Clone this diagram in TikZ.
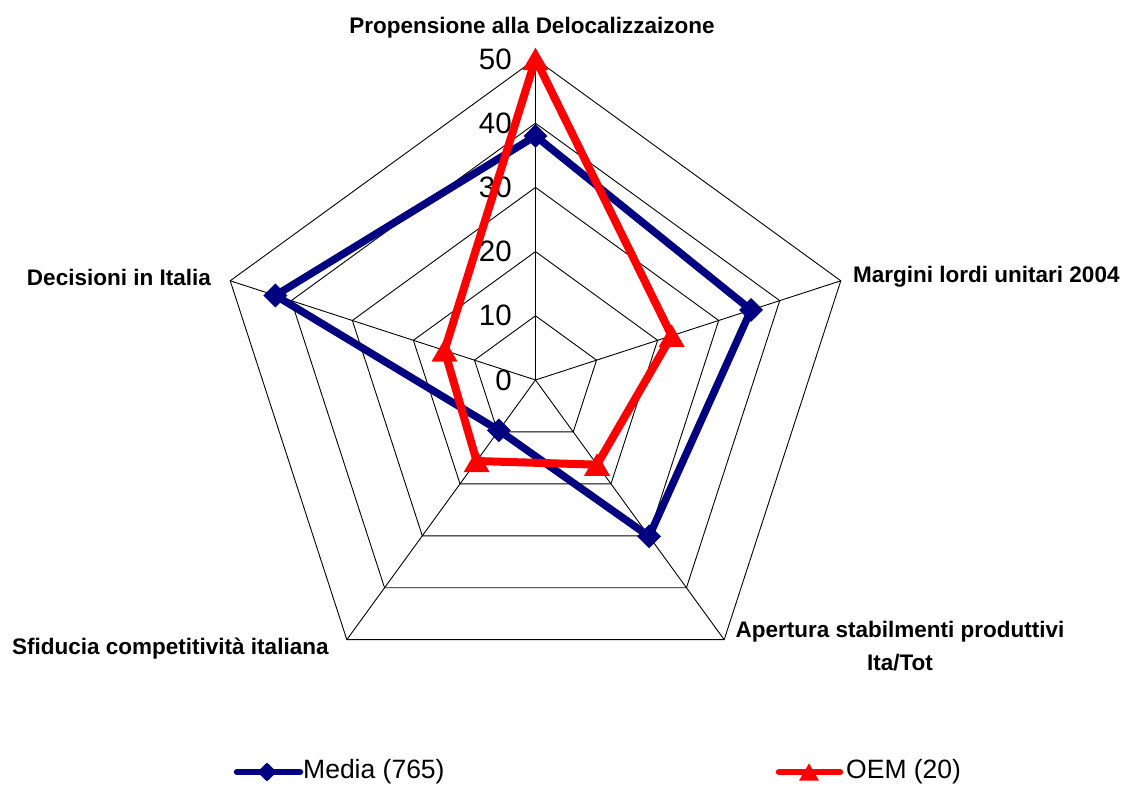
\documentclass[tikz,border=0pt]{standalone}
\usepackage{fontspec}
\setmainfont{Liberation Sans}
\usetikzlibrary{shapes.geometric}
\definecolor{navy}{RGB}{0,0,128}
\definecolor{oemred}{RGB}{255,0,0}
\tikzset{
  gridline/.style={draw=black, line width=0.9pt},
  axislab/.style={font=\fontsize{22.5}{33}\selectfont\bfseries, inner sep=0pt},
  numlab/.style={font=\fontsize{29.5}{32}\selectfont, inner sep=0pt, anchor=east},
  legtext/.style={font=\fontsize{26.5}{28}\selectfont, inner sep=0pt, anchor=west},
  medialine/.style={draw=navy, line width=7.5pt, line join=round},
  oemline/.style={draw=oemred, line width=8pt, line join=round},
  diamondmark/.style={diamond, fill=navy, inner sep=0pt, minimum width=24pt, minimum height=24pt},
  trimark/.style={regular polygon, regular polygon sides=3, fill=oemred, inner sep=0pt, minimum size=30pt, yshift=-3.7pt},
  legdiamond/.style={diamond, fill=navy, inner sep=0pt, minimum width=20pt, minimum height=19pt},
  legtri/.style={regular polygon, regular polygon sides=3, fill=oemred, inner sep=0pt, minimum size=23pt, yshift=-2.9pt}
}
\begin{document}
\begin{tikzpicture}[x=1pt,y=1pt]
\useasboundingbox (0,0) rectangle (1124,787);
\fill[white] (0,0) rectangle (1124,787);
\begin{scope}[shift={(535.5,407)}]
  \def\u{6.42}
  \coordinate (O) at (0,0);
  % grid rings
  \foreach \r in {10,20,30,40,50}{
    \draw[gridline] (90:{\r*\u}) -- (18:{\r*\u}) -- (-54:{\r*\u}) -- (-126:{\r*\u}) -- (162:{\r*\u}) -- cycle;
  }
  % spokes
  \coordinate (V1) at (90:{50*\u});
  \coordinate (V2) at (18:{50*\u});
  \coordinate (V3) at (-54:{50*\u});
  \coordinate (V4) at (-126:{50*\u});
  \coordinate (V5) at (162:{50*\u});
  \foreach \i in {1,...,5}{ \draw[gridline] (O) -- (V\i); }
  % scale labels
  \foreach \r in {0,10,20,30,40,50}{
    \node[numlab] (n\r) at (-23.5,{\r*\u}) {\r};
  }
  % Media series
  \coordinate (m1) at (90:{38*\u});
  \coordinate (m2) at (18:{35.3*\u});
  \coordinate (m3) at (-54:{30.1*\u});
  \coordinate (m4) at (-126:{9.7*\u});
  \coordinate (m5) at (162:{42.6*\u});
  \draw[medialine] (m1) -- (m2) -- (m3) -- (m4) -- (m5) -- cycle;
  \foreach \i in {1,...,5}{ \node[diamondmark] (dm\i) at (m\i) {}; }
  % OEM series
  \coordinate (o1) at (90:{50*\u});
  \coordinate (o2) at (18:{22.3*\u});
  \coordinate (o3) at (-54:{16.3*\u});
  \coordinate (o4) at (-126:{15.6*\u});
  \coordinate (o5) at (162:{14.9*\u});
  \draw[oemline] (o1) -- (o2) -- (o3) -- (o4) -- (o5) -- cycle;
  \foreach \i in {1,...,5}{ \node[trimark] (tm\i) at (o\i) {}; }
\end{scope}
% axis labels
\node[axislab] (l1) at (532,759) {Propensione alla Delocalizzaizone};
\node[axislab, anchor=west] (l2) at (853,510) {Margini lordi unitari 2004};
\node[axislab, align=center] (l3) at (900,141) {Apertura stabilmenti produttivi\\Ita/Tot};
\node[axislab, anchor=west] (l4) at (12,138) {Sfiducia competitività italiana};
\node[axislab, anchor=east] (l5) at (211,510) {Decisioni in Italia};
% legend
\coordinate (la) at (237,15);
\coordinate (lb) at (300,15);
\draw[medialine, line width=6.5pt, line cap=round] (la) -- (lb);
\node[legdiamond] (ld) at (267,15) {};
\node[legtext] (lt1) at (303,15) {Media (765)};
\coordinate (lc) at (779,15);
\coordinate (ld2) at (840,15);
\draw[oemline, line width=6.5pt, line cap=round] (lc) -- (ld2);
\node[legtri] (ltr) at (809,15) {};
\node[legtext] (lt2) at (846,15) {OEM (20)};
\end{tikzpicture}
\end{document}
